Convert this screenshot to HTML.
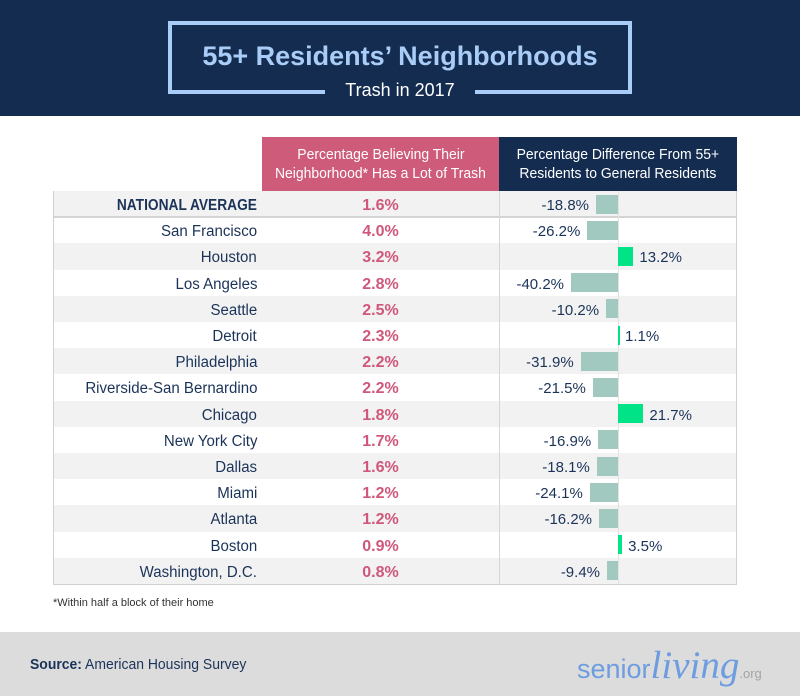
<!DOCTYPE html>
<html><head><meta charset="utf-8"><style>
*{margin:0;padding:0;box-sizing:border-box}
body{width:800px;height:696px;background:#fff;position:relative;overflow:hidden;font-family:"Liberation Sans",sans-serif;color:#1b3358}
.abs{position:absolute}
#hdr{left:0;top:0;width:800px;height:116px;background:#132c50}
#box{left:168px;top:21px;width:464px;height:73px;border:4px solid #a9cdf7}
#title{left:0;top:41px;width:800px;text-align:center;font-weight:bold;font-size:27px;color:#a9cdf7}
#gap{left:325px;top:85px;width:150px;height:14px;background:#132c50}
#sub{left:0;top:80px;width:800px;text-align:center;font-size:18px;color:#fff}
.hcell{top:137px;height:54px;color:#fff;font-size:15px;line-height:19px;text-align:center;padding-top:8px;white-space:nowrap}
.hcell span{display:inline-block;transform:scaleX(0.93);transform-origin:center}
#tbl{left:53px;top:191px;width:684px;height:394px;border:1px solid #d0d0d0;border-top:none}
.row{position:absolute;left:0;width:682px;height:26.2px}
.g{background:#f2f2f2}
.nm{position:absolute;right:479px;top:0;line-height:29px;font-size:15.5px;white-space:nowrap;transform:scaleX(0.97);transform-origin:right center}
.v{position:absolute;left:208px;width:237px;top:0;line-height:29px;font-size:16px;font-weight:bold;color:#d0577a;text-align:center}
.b{position:absolute;top:3.5px;height:19px}
.n{background:#a2c9bf}
.p{background:#00e387}
.dl{position:absolute;top:0;line-height:29px;font-size:15px;white-space:nowrap}
.vl{position:absolute;top:0;width:1px;height:393px}
</style></head><body>
<div id="hdr" class="abs"></div>
<div id="box" class="abs"></div>
<div id="title" class="abs">55+ Residents’ Neighborhoods</div>
<div id="gap" class="abs"></div>
<div id="sub" class="abs">Trash in 2017</div>

<div class="abs hcell" style="left:262px;width:237px;background:#cf5b7a"><span>Percentage Believing Their</span><br><span>Neighborhood* Has a Lot of Trash</span></div>
<div class="abs hcell" style="left:499px;width:238px;background:#132c50"><span>Percentage Difference From 55+</span><br><span>Residents to General Residents</span></div>

<div id="tbl" class="abs">
<div class="abs" style="left:-1px;top:0;width:210px;height:1px;background:#d0d0d0"></div>
<div class="row g" style="top:0;height:24.5px"><div class="nm" style="font-weight:bold;font-size:16px;transform:scaleX(0.86)">NATIONAL AVERAGE</div><div class="v">1.6%</div></div>
<div class="abs" style="left:0;top:24.5px;width:682px;height:2px;background:#d4d4d4"></div>
<div class="row" style="top:26.2px"><div class="nm">San Francisco</div><div class="v">4.0%</div></div>
<div class="row g" style="top:52.4px"><div class="nm">Houston</div><div class="v">3.2%</div></div>
<div class="row" style="top:78.6px"><div class="nm">Los Angeles</div><div class="v">2.8%</div></div>
<div class="row g" style="top:104.8px"><div class="nm">Seattle</div><div class="v">2.5%</div></div>
<div class="row" style="top:131px"><div class="nm">Detroit</div><div class="v">2.3%</div></div>
<div class="row g" style="top:157.2px"><div class="nm">Philadelphia</div><div class="v">2.2%</div></div>
<div class="row" style="top:183.4px"><div class="nm">Riverside-San Bernardino</div><div class="v">2.2%</div></div>
<div class="row g" style="top:209.6px"><div class="nm">Chicago</div><div class="v">1.8%</div></div>
<div class="row" style="top:235.8px"><div class="nm">New York City</div><div class="v">1.7%</div></div>
<div class="row g" style="top:262px"><div class="nm">Dallas</div><div class="v">1.6%</div></div>
<div class="row" style="top:288.2px"><div class="nm">Miami</div><div class="v">1.2%</div></div>
<div class="row g" style="top:314.4px"><div class="nm">Atlanta</div><div class="v">1.2%</div></div>
<div class="row" style="top:340.6px"><div class="nm">Boston</div><div class="v">0.9%</div></div>
<div class="row g" style="top:366.8px"><div class="nm">Washington, D.C.</div><div class="v">0.8%</div></div>
<div class="vl" style="left:445px;background:#d6d6d6"></div>
<div class="vl" style="left:563.5px;background:#e2e2e2"></div>

<div class="row" style="top:0"><div class="b n" style="left:542px;width:22px"></div><div class="dl" style="right:147px">-18.8%</div></div>
<div class="row" style="top:26.2px"><div class="b n" style="left:533.3px;width:30.7px"></div><div class="dl" style="right:155.7px">-26.2%</div></div>
<div class="row" style="top:52.4px"><div class="b p" style="left:564px;width:15.4px"></div><div class="dl" style="left:585.4px">13.2%</div></div>
<div class="row" style="top:78.6px"><div class="b n" style="left:517px;width:47px"></div><div class="dl" style="right:172px">-40.2%</div></div>
<div class="row" style="top:104.8px"><div class="b n" style="left:552.1px;width:11.9px"></div><div class="dl" style="right:136.9px">-10.2%</div></div>
<div class="row" style="top:131px"><div class="b p" style="left:564px;width:2px"></div><div class="dl" style="left:571px">1.1%</div></div>
<div class="row" style="top:157.2px"><div class="b n" style="left:526.7px;width:37.3px"></div><div class="dl" style="right:162.3px">-31.9%</div></div>
<div class="row" style="top:183.4px"><div class="b n" style="left:538.8px;width:25.2px"></div><div class="dl" style="right:150.2px">-21.5%</div></div>
<div class="row" style="top:209.6px"><div class="b p" style="left:564px;width:25.4px"></div><div class="dl" style="left:595.4px">21.7%</div></div>
<div class="row" style="top:235.8px"><div class="b n" style="left:544.2px;width:19.8px"></div><div class="dl" style="right:144.8px">-16.9%</div></div>
<div class="row" style="top:262px"><div class="b n" style="left:542.8px;width:21.2px"></div><div class="dl" style="right:146.2px">-18.1%</div></div>
<div class="row" style="top:288.2px"><div class="b n" style="left:535.8px;width:28.2px"></div><div class="dl" style="right:153.2px">-24.1%</div></div>
<div class="row" style="top:314.4px"><div class="b n" style="left:545px;width:19px"></div><div class="dl" style="right:144px">-16.2%</div></div>
<div class="row" style="top:340.6px"><div class="b p" style="left:564px;width:4.1px"></div><div class="dl" style="left:574.1px">3.5%</div></div>
<div class="row" style="top:366.8px"><div class="b n" style="left:553px;width:11px"></div><div class="dl" style="right:136px">-9.4%</div></div>
</div>

<div class="abs" style="left:53px;top:597px;font-size:11px;color:#333">*Within half a block of their home</div>

<div class="abs" style="left:0;top:632px;width:800px;height:64px;background:#dcdcdc"></div>
<div class="abs" style="left:30px;top:656px;font-size:15px;color:#1b3358;white-space:nowrap;transform:scaleX(0.93);transform-origin:left center"><b>Source:</b> American Housing Survey</div>
<div class="abs" style="left:577px;top:643px;white-space:nowrap;color:#6d9de0">
<span style="font-size:27px">senior</span><span style="font-family:'Liberation Serif',serif;font-style:italic;font-size:39px">living</span><span style="font-size:13px;color:#a4a4a4">.org</span>
</div>
</body></html>
